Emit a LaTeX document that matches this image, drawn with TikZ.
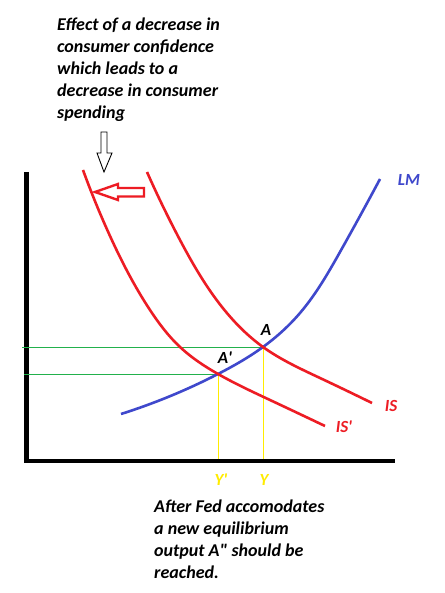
\documentclass[tikz,border=0pt]{standalone}
\usepackage{fontspec}
\usetikzlibrary{hobby}
\setmainfont{Carlito}[Ligatures=TeXOff]
\definecolor{pred}{RGB}{237,28,36}
\definecolor{pblue}{RGB}{63,72,204}
\definecolor{pgreen}{RGB}{34,177,76}
\definecolor{pyellow}{RGB}{255,236,0}
\begin{document}
\begin{tikzpicture}[x=1pt,y=-1pt,use Hobby shortcut,
  txt/.style={inner sep=0pt,font=\fontsize{18}{22}\selectfont\bfseries\itshape,align=left},
  lbl/.style={inner sep=0pt,font=\fontsize{17}{18}\selectfont\bfseries\itshape},
  redcurve/.style={pred,line width=2.6pt},
  bluecurve/.style={pblue,line width=2.6pt},
  axisline/.style={black,line width=4.5pt},
  guide/.style={line width=1pt}]
\useasboundingbox (0,0) rectangle (444,593);
\fill[white] (0,0) rectangle (444,593);

% text
\node[txt,anchor=north west] (top) at (57,18) {Effect of a decrease in\\consumer confidence\\which leads to a\\decrease in consumer\\spending};
\node[txt,anchor=north west] (bottom) at (154,500) {After Fed accomodates\\a new equilibrium\\output A" should be\\reached.};

% axes
\coordinate (O) at (26.5,461);
\coordinate (ytop) at (26.5,172);
\coordinate (xend) at (395,461);
\draw[axisline] (ytop) -- (O |- 0,463.2);
\draw[axisline] (26.5,461) -- (xend);

% points
\coordinate (A) at (263,347);
\coordinate (Ap) at (218,374);
\coordinate (gA) at (22,347);
\coordinate (gAp) at (24,374);
\coordinate (yA) at (263,459);
\coordinate (yAp) at (218,459);

% guides
\draw[guide,pgreen] (gA) -- (A);
\draw[guide,pgreen] (gAp) -- (Ap);
\draw[guide,pyellow] (A) -- (yA);
\draw[guide,pyellow] (Ap) -- (yAp);

% curves
\draw[bluecurve] (121,414) .. (Ap) .. (A) .. (300,313) .. (340,252) .. (380,179);
\draw[redcurve] (147,172) .. (180,240) .. (222,307) .. (A) .. (320,378) .. (372,403);
\draw[redcurve] (83,170) .. (110,236) .. (150,310) .. (180,347) .. (Ap) .. (270,400) .. (325,426);

% arrows
\draw[pred,line width=2.4pt,line join=miter] (144,188) -- (118,188) -- (118,184) -- (95,192) -- (118,200) -- (118,196.5) -- (144,196.5) -- cycle;
\draw[black,line width=0.9pt] (101,132) -- (107,132) -- (107,153) -- (112,153) -- (104,172) -- (97,153) -- (101,153) -- cycle;

% labels
\node[lbl,pblue] (LM) at (409,180) {LM};
\node[lbl,pred] (IS) at (391,406) {IS};
\node[lbl,pred] (ISp) at (344,427) {IS'};
\node[lbl] (Alab) at (266,330) {A};
\node[lbl] (Aplab) at (225,358) {A'};
\node[lbl,pyellow] (Yp) at (221,480) {Y'};
\node[lbl,pyellow] (Y) at (264,480) {Y};
\end{tikzpicture}
\end{document}
